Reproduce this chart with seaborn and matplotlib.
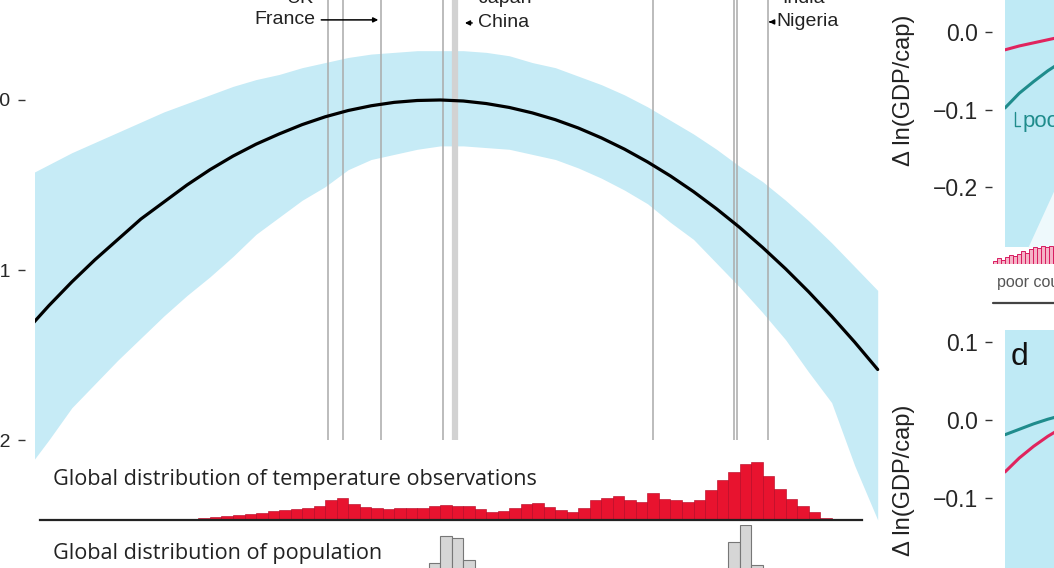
import matplotlib
matplotlib.use("Agg")
import matplotlib.pyplot as plt
import numpy as np
import pandas as pd
import seaborn as sns
from matplotlib.lines import Line2D

# response of ln(GDP/cap) to annual temperature (deg C)
temp = list(range(-5, 33))
resp = [-0.136, -0.121, -0.107, -0.094, -0.082, -0.070, -0.060, -0.050, -0.041, -0.033,
        -0.026, -0.020, -0.0145, -0.0099, -0.0062, -0.0034, -0.0014, -0.0003, 0.0, -0.0006,
        -0.0021, -0.0044, -0.0076, -0.0116, -0.0165, -0.0223, -0.0289, -0.0364, -0.0447, -0.0539,
        -0.064, -0.0749, -0.0867, -0.0993, -0.1128, -0.1272, -0.1424, -0.1585]
ci_hi = [-0.045, -0.038, -0.031, -0.025, -0.019, -0.013, -0.007, -0.002, 0.003, 0.008,
         0.012, 0.015, 0.019, 0.022, 0.025, 0.027, 0.028, 0.029, 0.029, 0.029,
         0.028, 0.026, 0.022, 0.019, 0.014, 0.009, 0.003, -0.004, -0.012, -0.020,
         -0.029, -0.039, -0.048, -0.059, -0.071, -0.084, -0.098, -0.112]
ci_lo = [-0.218, -0.200, -0.181, -0.167, -0.153, -0.140, -0.127, -0.115, -0.104, -0.092,
         -0.079, -0.069, -0.059, -0.051, -0.041, -0.035, -0.032, -0.029, -0.027, -0.027,
         -0.028, -0.029, -0.032, -0.035, -0.040, -0.046, -0.053, -0.061, -0.072, -0.082,
         -0.096, -0.110, -0.125, -0.141, -0.160, -0.178, -0.215, -0.247]

# country mean temperatures (vertical marker lines)
country_temp = [8.13, 8.78, 10.43, 13.13, 22.22, 25.74, 25.91, 27.22]
china_temp = 13.65

# temperature observation histogram, 0.5 deg bins from -4.5 to 31.5
bin_lo, bin_hi, bin_w = -4.5, 31.5, 0.5
temp_obs = [0.4, 0.4, 0.5, 0.5, 0.6, 0.6, 0.8, 1.0, 1.4, 1.2, 0.9, 0.8, 1.0,
            1, 2, 3, 4, 5, 6, 7, 9, 10, 11, 12, 14, 20, 22, 16, 13, 12, 11, 12, 12,
            12, 14, 15, 14, 14, 11, 8, 9, 12, 16, 17, 13, 10, 8, 12, 20, 22, 24,
            20, 18, 27, 21, 20, 18, 20, 30, 40, 48, 56, 58, 44, 31, 21, 14, 8, 2,
            0.5, 0.3, 0.2]

# population histogram (China and India bins)
pop_temp = [12.75, 13.25, 13.75, 14.25, 25.75, 26.25, 26.75]
pop_share = [12, 39, 37, 15, 33, 50, 10]

# right-hand panels (c, d): visible starts of the curves
right_x = [-5, -4, -3, -2, -1, 0]
c_rich = [-0.023, -0.018, -0.014, -0.010, -0.006, -0.003]
c_poor = [-0.098, -0.079, -0.064, -0.050, -0.038, -0.028]
d_teal = [-0.019, -0.012, -0.005, 0.001, 0.006, 0.010]
d_red = [-0.067, -0.049, -0.034, -0.021, -0.010, -0.001]
# pale wedge at the bottom of panel c
wedge_x = [-3.39, -1.57, 0]
wedge_top = [-0.2774, -0.204, -0.16]
poor_bins = [3, 5, 4, 6, 8, 7, 9, 12, 10, 13, 15, 14, 16, 15, 16, 14]

W, H = 1054, 568
BAND = "#c6ebf6"
PANEL = "#bfeaf5"
RED = "#e0245e"
TEAL = "#1f8c8c"


def rect(x0, y0, x1, y1):
    return [x0 / W, 1 - y1 / H, (x1 - x0) / W, (y1 - y0) / H]


def fxy(x, y):
    return x / W, 1 - y / H


sns.set_style("white")
plt.rcParams['font.family'] = ['Liberation Sans', 'DejaVu Sans']

edges = [float(e) for e in np.arange(bin_lo, bin_hi + bin_w / 2, bin_w)]
obs_df = pd.DataFrame({"t": [e + bin_w / 2 for e in edges[:-1]], "n": temp_obs})
pop_df = pd.DataFrame({"t": pop_temp, "n": pop_share})

fig = plt.figure(figsize=(W / 100, H / 100), dpi=100)

# ---- main panel ----
ax = fig.add_axes(rect(35, 0, 880, 530))
ax.set_facecolor("none")
ax.fill_between(temp, ci_lo, ci_hi, color=BAND, lw=0, zorder=1)
ax.vlines(country_temp, -0.2, 0.0588, color="#aaaaaa", lw=1.1, zorder=2)
ax.vlines([china_temp], -0.2, 0.0588, color="#d2d2d2", lw=4.5, zorder=2)
sns.lineplot(x=temp, y=resp, ax=ax, color="black", lw=2.3, zorder=3)
ax.set_xlim(-4.6, 32.1)
ax.set_ylim(-0.2529, 0.0588)
ax.set_xticks([])
ax.set_yticks([0, -0.1, -0.2])
ax.set_yticklabels(["0.0", "\u22120.1", "\u22120.2"])
ax.tick_params(axis="y", left=True, direction="out", length=5, width=1, pad=5.5,
               labelsize=14, color="#333")
for s in ["top", "right", "bottom"]:
    ax.spines[s].set_visible(False)
ax.spines["left"].set_position(("outward", 7.2))
ax.spines["left"].set_color("none")
ax.set_xlabel("")
ax.set_ylabel("")

arrow = dict(arrowstyle="-|>", color="black", lw=1.1, mutation_scale=7)
lab_kw = dict(fontsize=14, color="#222", va="center", annotation_clip=False)
ax.annotate("France", xy=(10.43, 0.0471), xytext=(7.57, 0.0471), ha="right",
            arrowprops=arrow, **lab_kw)
ax.annotate("China", xy=(13.95, 0.0453), xytext=(14.65, 0.0453), ha="left",
            arrowprops=arrow, **lab_kw)
ax.annotate("Nigeria", xy=(27.28, 0.0459), xytext=(27.6, 0.0459), ha="left",
            arrowprops=arrow, **lab_kw)
for name, tx, ha in [("UK", 7.48, "right"), ("Japan", 14.65, "left"), ("India", 27.87, "left")]:
    ax.text(tx, 0.0596, name, ha=ha, va="center", fontsize=14, color="#222", clip_on=False)

# ---- temperature observation histogram ----
axh = fig.add_axes(rect(35, 455, 880, 520))
axh.set_facecolor("none")
sns.histplot(data=obs_df, x="t", weights="n", bins=edges, ax=axh,
             color="#e8132f", edgecolor="#b3001e", linewidth=0.4, alpha=1)
axh.set_xlim(-4.6, 32.1)
axh.set_ylim(0, 65)
axh.set_xticks([])
axh.set_yticks([])
axh.set_xlabel("")
axh.set_ylabel("")
for s in ["top", "right", "left"]:
    axh.spines[s].set_visible(False)
axh.spines["bottom"].set_bounds(-4.4, 31.3)
axh.spines["bottom"].set_linewidth(1.6)
axh.spines["bottom"].set_color("#222")

# ---- population histogram ----
axp = fig.add_axes(rect(35, 525, 880, 575))
axp.set_facecolor("none")
sns.histplot(data=pop_df, x="t", weights="n", bins=edges, ax=axp,
             color="#d6d6d6", edgecolor="#777777", linewidth=0.8, alpha=1)
axp.set_xlim(-4.6, 32.1)
axp.set_ylim(0, 50)
axp.axis("off")

fig.text(*fxy(53, 479), "Global distribution of temperature observations",
         family="Open Sans", fontsize=15.6, color="#222", ha="left", va="center")
fig.text(*fxy(53, 553), "Global distribution of population",
         family="Open Sans", fontsize=15.6, color="#222", ha="left", va="center")


# ---- right panels ----
def side_panel(box, ylim, ticks, labels, lines):
    a = fig.add_axes(rect(*box))
    a.set_facecolor(PANEL)
    for yv, col in lines:
        sns.lineplot(x=right_x, y=yv, ax=a, color=col, lw=2.2)
    a.set_xlim(-5, 30)
    a.set_ylim(*ylim)
    a.set_xticks([])
    a.set_yticks(ticks)
    a.set_yticklabels(labels)
    a.tick_params(axis="y", left=True, direction="out", length=5, width=1, pad=5,
                  labelsize=16.5, color="#333")
    for s in ["top", "right", "bottom"]:
        a.spines[s].set_visible(False)
    a.spines["left"].set_position(("outward", 9.4))
    a.spines["left"].set_color("none")
    a.set_xlabel("")
    a.set_ylabel("")
    return a


axc = side_panel((1005, -50, 1505, 247), (-0.2774, 0.1058), [0, -0.1, -0.2],
                 ["0.0", "\u22120.1", "\u22120.2"], [(c_rich, RED), (c_poor, TEAL)])
axc.fill_between(wedge_x, [-0.2774] * 3, wedge_top, color="#eef9fc", lw=0)
axc.text(-3.75, -0.116, "poor", color=TEAL, fontsize=16, va="center", ha="left")
axc.plot([-4.3, -4.3, -3.95], [-0.103, -0.121, -0.121], color=TEAL, lw=1)

axd = side_panel((1005, 330, 1505, 700), (-0.361, 0.116), [0.1, 0, -0.1],
                 ["0.1", "0.0", "\u22120.1"], [(d_teal, TEAL), (d_red, RED)])

for ylab_y in [90, 480]:
    fig.text(*fxy(904, ylab_y), "\u0394 ln(GDP/cap)", rotation=90, fontsize=17,
             ha="center", va="center", color="#222")
fig.text(*fxy(1011, 357), "d", fontsize=23, ha="left", va="center", color="#111")

axb = fig.add_axes(rect(993, 245, 1300, 264))
axb.bar(range(len(poor_bins)), poor_bins, width=1, color="#f5b3c6",
        edgecolor="#d81b60", linewidth=0.7)
axb.set_xlim(-0.5, 76.5)
axb.set_ylim(0, 17)
axb.axis("off")
fig.text(*fxy(997, 283), "poor countries", fontsize=11.5, color="#555",
         ha="left", va="center")
fig.add_artist(Line2D([993 / W, 1.0], [1 - 303 / H] * 2, color="#444", lw=1.6))

fig.savefig("out.png", dpi=100)
